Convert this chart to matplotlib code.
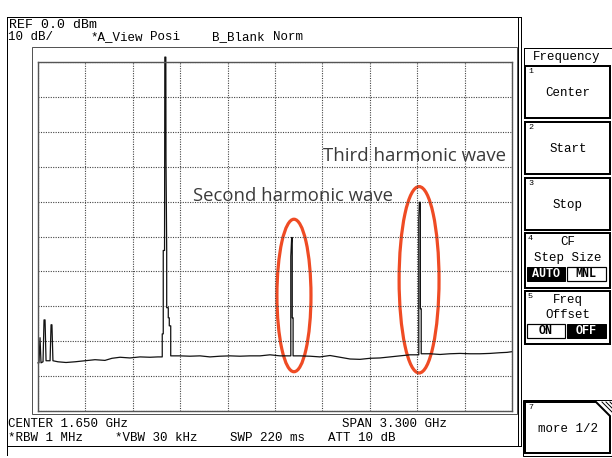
import numpy as np
import matplotlib
matplotlib.use("Agg")
import matplotlib.pyplot as plt
from matplotlib.patches import Rectangle, Ellipse, Polygon

# spectrum trace (GHz, dBm)
freq_ghz = [0.000, 0.007, 0.014, 0.021, 0.035, 0.042, 0.049, 0.056, 0.084, 0.091,
            0.097, 0.104, 0.139, 0.195, 0.258, 0.327, 0.397, 0.466, 0.515, 0.571,
            0.640, 0.710, 0.780, 0.835,
            0.865, 0.865, 0.872, 0.872, 0.881, 0.883, 0.890, 0.891, 0.896, 0.896,
            0.907, 0.907, 0.914, 0.914, 0.924, 0.924,
            0.989, 1.058, 1.128, 1.197, 1.267, 1.337, 1.406, 1.476, 1.546, 1.615,
            1.685, 1.747,
            1.760, 1.760, 1.766, 1.770, 1.770, 1.776, 1.776,
            1.824, 1.894, 1.963, 2.033, 2.103, 2.172, 2.242, 2.311, 2.381, 2.451,
            2.520, 2.590, 2.639,
            2.651, 2.651, 2.655, 2.662, 2.662, 2.668, 2.668,
            2.729, 2.799, 2.868, 2.938, 3.008, 3.077, 3.147, 3.216, 3.265, 3.300]
level_dbm = [-86.2, -86.2, -79.0, -86.2, -85.9, -73.9, -73.9, -85.6, -85.6, -75.3,
             -75.3, -85.6, -85.9, -86.1, -85.9, -85.6, -85.3, -85.5, -84.9, -84.6,
             -84.8, -84.5, -84.6, -84.5,
             -84.5, -77.9, -77.9, -54.0, -54.0, 1.4, 1.4, -27.6, -54.0, -70.4,
             -70.4, -73.3, -73.3, -75.6, -75.6, -84.2,
             -84.2, -84.3, -84.2, -84.5, -84.3, -84.2, -84.3, -84.2, -84.2, -83.9,
             -84.2, -84.2,
             -84.2, -55.7, -50.3, -50.3, -73.3, -73.3, -84.2,
             -84.2, -84.3, -84.5, -84.1, -84.6, -85.1, -85.2, -84.9, -84.8, -84.5,
             -84.2, -83.9, -83.9,
             -83.9, -45.1, -40.2, -40.2, -70.7, -70.7, -83.6,
             -83.6, -83.8, -83.6, -83.5, -83.6, -83.6, -83.5, -83.3, -83.2, -83.0]

# circled harmonics: centre (GHz, dBm), size (GHz, dB)
marks = [(1.782, -66.9, 0.237, 43.7), (2.653, -62.4, 0.278, 53.4)]

header_top = ["REF 0.0 dBm"]
header_row2 = [(8, "10 dB/"), (90, "*A_View"), (150, "Posi"), (212, "B_Blank"), (273, "Norm")]
footer_row1 = [(8, "CENTER 1.650 GHz"), (342, "SPAN 3.300 GHz")]
footer_row2 = [(8, "*RBW 1 MHz"), (115, "*VBW 30 kHz"), (230, "SWP 220 ms"), (328, "ATT 10 dB")]

mono = "Liberation Mono"
fs = 9
px = 0.72  # one pixel in points at 100 dpi

fig = plt.figure(figsize=(6.12, 4.58), dpi=100)
bg = fig.add_axes([0, 0, 1, 1])
bg.set_xlim(0, 612)
bg.set_ylim(458, 0)
bg.axis("off")


def rect(x0, y0, x1, y1, lw=1, fc="none", ec="black"):
    bg.add_patch(Rectangle((x0, y0), x1 - x0, y1 - y0, lw=lw * px, fc=fc, ec=ec))


# left screen frame
bg.plot([7, 7], [17, 455], color="black", lw=px)
bg.plot([7, 521], [17, 17], color="black", lw=px)
bg.plot([7, 521], [446, 446], color="black", lw=px)
bg.plot([518, 518], [17, 446], color="black", lw=px)
bg.plot([521, 521], [17, 446], color="black", lw=px)
# graticule surround
rect(32, 47, 517, 414, lw=1, ec="#555555")

bg.text(9, 28, header_top[0], family=mono, fontsize=9.5, va="baseline")
for x, s in header_row2:
    bg.text(x, 40, s, family=mono, fontsize=fs, va="baseline")
for x, s in footer_row1:
    bg.text(x, 427, s, family=mono, fontsize=fs, va="baseline")
for x, s in footer_row2:
    bg.text(x, 441, s, family=mono, fontsize=fs, va="baseline")

# soft key panel
bg.plot([524, 612], [48, 48], color="black", lw=px)
bg.plot([524, 524], [48, 64], color="black", lw=px)
bg.text(567, 57, "Frequency", family=mono, fontsize=fs, ha="center", va="center")
keys = [(66, 118, "1", "Center"), (122, 174, "2", "Start"), (178, 230, "3", "Stop")]
for y0, y1, n, label in keys:
    rect(525, y0, 610, y1, lw=2)
    bg.text(528, y0 + 2, n, family=mono, fontsize=6, va="top")
    bg.text(568, (y0 + y1) / 2 + 1, label, family=mono, fontsize=fs, ha="center", va="center")

rect(525, 233, 610, 288, lw=2)
bg.text(528, 235, "4", family=mono, fontsize=6, va="top")
bg.text(568, 242, "CF", family=mono, fontsize=fs, ha="center", va="center")
bg.text(568, 258, "Step Size", family=mono, fontsize=fs, ha="center", va="center")
rect(527, 267, 565, 281, lw=1, fc="black")
rect(567, 267, 606, 281, lw=1.2)
bg.text(546, 274, "AUTO", family=mono, fontsize=8.5, weight="bold", color="white", ha="center", va="center")
bg.text(586, 274, "MNL", family=mono, fontsize=8.5, weight="bold", ha="center", va="center")

rect(525, 291, 610, 344, lw=2)
bg.text(528, 293, "5", family=mono, fontsize=6, va="top")
bg.text(568, 300, "Freq", family=mono, fontsize=fs, ha="center", va="center")
bg.text(568, 315, "Offset", family=mono, fontsize=fs, ha="center", va="center")
rect(527, 324, 565, 338, lw=1.2)
rect(567, 324, 606, 338, lw=1, fc="black")
bg.text(546, 331, "ON", family=mono, fontsize=8.5, weight="bold", ha="center", va="center")
bg.text(586, 331, "OFF", family=mono, fontsize=8.5, weight="bold", color="white", ha="center", va="center")

rect(523, 400, 612, 456, lw=1)
bg.add_patch(Polygon([(525, 402), (596, 402), (610, 416), (610, 453), (525, 453)],
                     closed=True, fc="white", ec="black", lw=2 * px))
for d in (4, 8, 12):
    bg.plot([598 + d, 612], [402, 416 - d], color="black", lw=px)
bg.text(528, 404, "7", family=mono, fontsize=6, va="top")
bg.text(568, 429, "more 1/2", family=mono, fontsize=fs, ha="center", va="center")

# trace graticule
ax = fig.add_axes([38 / 612, 1 - 411 / 458, 474 / 612, 349 / 458])
ax.patch.set_alpha(0)
ax.set_xlim(0, 3.3)
ax.set_ylim(-100, 0)
ax.set_xticks(np.linspace(0, 3.3, 11))
ax.set_yticks(np.arange(-100, 1, 10))
ax.tick_params(length=0, labelbottom=False, labelleft=False)
ax.grid(True, color="#444444", lw=0.8, linestyle=(0, (1, 1.2)))
for s in ax.spines.values():
    s.set_color("#555555")
    s.set_linewidth(1)

ax.plot(freq_ghz, level_dbm, color="#111111", lw=0.9, clip_on=False)

for cx, cy, w, h in marks:
    ax.add_patch(Ellipse((cx, cy), w, h, fill=False, ec="#ef4b24", lw=2.3, clip_on=False))

ax.text((193 - 38) / 474 * 3.3, -(201 - 62) / 3.49, "Second harmonic wave",
        family="Open Sans", fontsize=13.3, color="#3a3a3a", va="baseline")
ax.text((323 - 38) / 474 * 3.3, -(161 - 62) / 3.49, "Third harmonic wave",
        family="Open Sans", fontsize=13.4, color="#3a3a3a", va="baseline")

fig.savefig("out.png", dpi=100)
